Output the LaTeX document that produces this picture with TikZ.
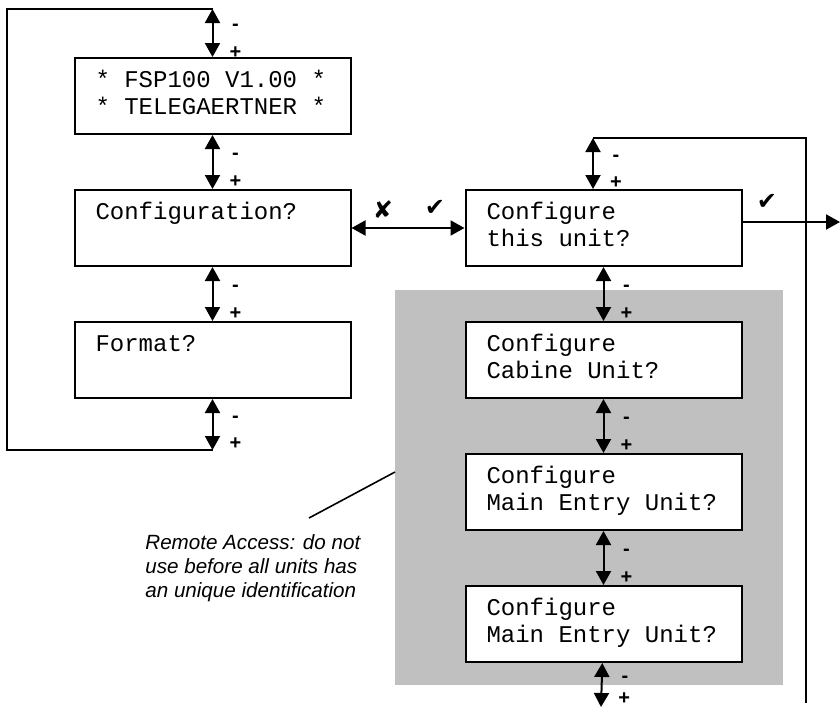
\documentclass[tikz,border=0pt]{standalone}
\usepackage{fontspec}
\setmainfont{Liberation Sans}
\newfontfamily\lcdfont{Liberation Mono}
\newfontfamily\symfont{DejaVu Sans}
\usetikzlibrary {arrows.meta,
                 positioning}
\definecolor{shade}{HTML}{C0C0C0}
\newcommand{\lcdsize}{\lcdfont\fontsize{12}{13.5}\selectfont}
\newcommand{\lcdgap}{\hspace*{0.6em}}
\newcommand{\lcdlines}[2]{\strut#1\\\strut#2}
\tikzset{
        lcd/.style={draw, fill=white, line width=1pt, rectangle,
                    minimum width=138pt, minimum height=38pt,
                    text width=117pt, inner xsep=10.5pt, inner ysep=0pt,
                    align=left, font=\lcdsize},
        myarrow/.style={<->, >={Triangle[length=7pt,width=7.5pt]}, line width=1pt},
        outarrow/.style={->, >={Triangle[length=7pt,width=7.5pt]}, line width=1pt},
        wire/.style={line width=0.8pt},
        pm/.style={font=\bfseries\fontsize{10}{10}\selectfont, inner sep=0pt, xshift=11.5pt},
        tick/.style={font=\symfont\bfseries\fontsize{12}{12}\selectfont, inner sep=0pt},
        note/.style={align=left, inner sep=0pt, font=\itshape\fontsize{10.3}{12}\selectfont},
        remote/.style={fill=shade},
 }
\begin{document}
\begin{tikzpicture}[x=0.5pt, y=-0.5pt, node distance=27pt]
    \useasboundingbox (0,0) rectangle (840,707);
    \fill[remote] (395,290) rectangle (783,685);

    % left column
    \node[lcd] (conf) at (212.5,228) {\lcdlines{Configuration?}{}};
    \node[lcd, above=of conf] (fsp)
        {\lcdlines{*\lcdgap FSP100\lcdgap V1.00\lcdgap *}{*\lcdgap TELEGAERTNER\lcdgap *}};
    \node[lcd, below=of conf] (fmt) {\lcdlines{Format?}{}};

    % right column
    \node[lcd, right=56.5pt of conf] (unit) {\lcdlines{Configure}{this\lcdgap unit?}};
    \node[lcd, below=of unit] (cab) {\lcdlines{Configure}{Cabine\lcdgap Unit?}};
    \node[lcd, below=of cab] (main1) {\lcdlines{Configure}{Main\lcdgap Entry\lcdgap Unit?}};
    \node[lcd, below=of main1] (main2) {\lcdlines{Configure}{Main\lcdgap Entry\lcdgap Unit?}};

    \coordinate (ltop) at (212.5,9);
    \coordinate (lside) at (7,230);
    \coordinate (lbot) at (212.5,450);
    \draw[wire] (ltop) -| (lside) |- (lbot);
    \draw[myarrow] (ltop) -- (fsp.north) node[pm, pos=.38] {-} node[pm, pos=.9] {+};
    \draw[myarrow] (fsp) -- (conf) node[pm, pos=.4] {-} node[pm, pos=.87] {+};
    \draw[myarrow] (conf) -- (fmt) node[pm, pos=.4] {-} node[pm, pos=.87] {+};
    \draw[myarrow] (fmt) -- (lbot) node[pm, pos=.4] {-} node[pm, pos=.87] {+};

    \draw[myarrow] (conf) -- (unit);
    \node[tick] (no) at (383,210) {✘};
    \node[tick] (yes) at (435,208) {✔};

    \coordinate (rtop) at (593,138);
    \coordinate (rbot) at (806,703);
    \coordinate (rend) at (601,707);
    \coordinate (out) at (840,222);
    \draw[wire] (rtop) -| (rbot);
    \draw[myarrow] (rtop) -- (rtop |- unit.north) node[pm, pos=.4] {-} node[pm, pos=.87] {+};
    \draw[myarrow] (unit) -- (cab) node[pm, pos=.4] {-} node[pm, pos=.87] {+};
    \draw[myarrow] (cab) -- (main1) node[pm, pos=.4] {-} node[pm, pos=.87] {+};
    \draw[myarrow] (main1) -- (main2) node[pm, pos=.4] {-} node[pm, pos=.87] {+};
    \draw[myarrow] (main2) -- (rend) node[pm, pos=.36] {-} node[pm, pos=.8] {+};
    \draw[outarrow] ([yshift=3pt]unit.east) -- (out);
    \node[tick] (yesout) at (767,202) {✔};

    % remark on the shaded units
    \coordinate (pin) at (395,472);
    \coordinate (tail) at (309,518);
    \draw[wire] (pin) -- (tail);
    \node[note, anchor=north west] (remark) at (145,534)
        {Remote Access: do not\\use before all units has\\an unique identification};
\end{tikzpicture}
\end{document}
